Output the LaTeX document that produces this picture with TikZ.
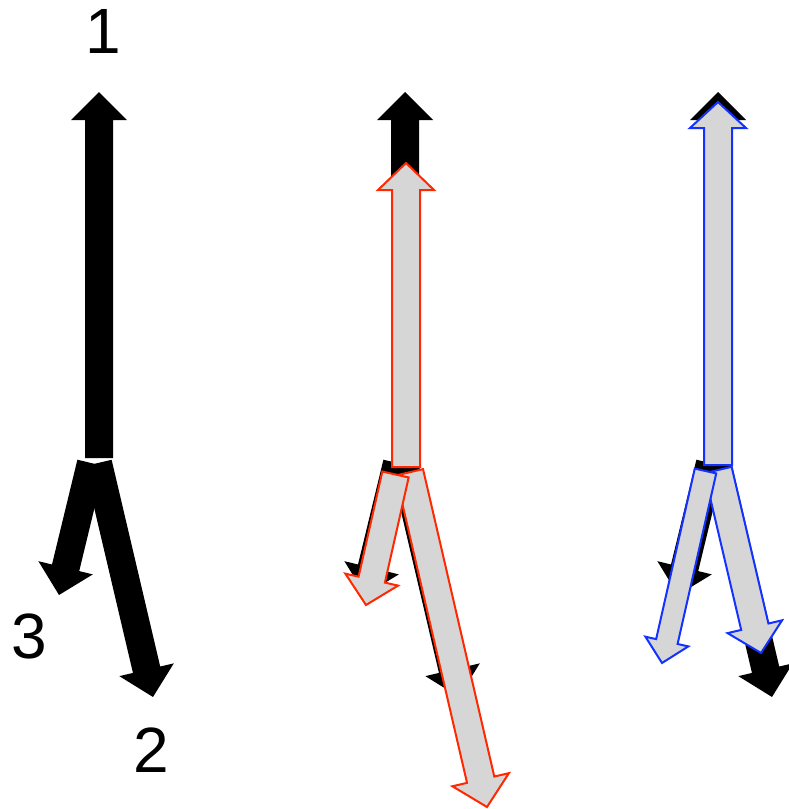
\documentclass[tikz,border=0pt]{standalone}
\usepackage{fontspec}
\setmainfont{Liberation Sans}
\definecolor{rline}{RGB}{255,40,0}
\definecolor{bline}{RGB}{20,50,255}
\definecolor{afill}{RGB}{214,214,214}
\newcommand\vecarrow[8]{%
  \pgfmathsetmacro\vxa{#2}%
  \pgfmathsetmacro\vya{#3}%
  \pgfmathsetmacro\vxb{#4}%
  \pgfmathsetmacro\vyb{#5}%
  \pgfmathsetmacro\va{atan2(\vya-\vyb,\vxb-\vxa)}%
  \pgfmathsetmacro\vl{veclen(\vxb-\vxa,\vyb-\vya)}%
  \pgfmathsetmacro\vb{\vl-#8}%
  \path[#1,shift={(\vxa,\vya)},rotate=\va] (0,-#6/2) -- (\vb,-#6/2) -- (\vb,-#7/2) -- (\vl,0) -- (\vb,#7/2) -- (\vb,#6/2) -- (0,#6/2) -- cycle;}
\newcommand\blackset[1]{%
  \vecarrow{blk}{98+#1}{463}{153+#1}{697}{28}{56}{28}%
  \vecarrow{blk}{91+#1}{463}{59+#1}{595}{28}{56}{28}%
  \vecarrow{blk}{99+#1}{458}{99+#1}{92}{28}{56}{28}}
\begin{document}
\begin{tikzpicture}[x=1pt,y=-1pt,
  blk/.style={fill=black},
  redarr/.style={fill=afill,draw=rline,line width=2pt},
  bluearr/.style={fill=afill,draw=bline,line width=2pt},
  lbl/.style={inner sep=0pt,font=\fontsize{64}{70}\selectfont}]
\useasboundingbox (0,0) rectangle (788,809);
% panel 1
\blackset{0}
\node[lbl] (l1) at (103,31) {1};
\node[lbl] (l3) at (29,636) {3};
\node[lbl] (l2) at (151,750) {2};
% panel 2
\blackset{306}
\vecarrow{redarr}{409.4}{472.3}{487}{807}{28}{58}{28}
\vecarrow{redarr}{395.5}{474.5}{366}{605}{27}{54}{26}
\vecarrow{redarr}{406}{467}{406}{163}{28}{56}{27}
% panel 3
\blackset{619}
\vecarrow{bluearr}{718}{470}{761}{653}{28}{56}{27}
\vecarrow{bluearr}{705.5}{471}{662}{663}{22}{44}{22}
\vecarrow{bluearr}{718}{465}{718}{102}{28}{56}{26}
\end{tikzpicture}
\end{document}
